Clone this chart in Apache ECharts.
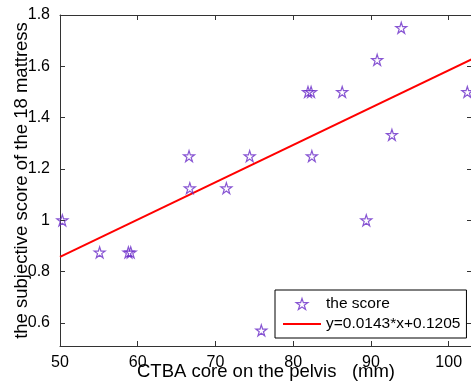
<!DOCTYPE html>
<html>
<head>
<meta charset="utf-8">
<script src="https://cdn.jsdelivr.net/npm/echarts@6/dist/echarts.min.js"></script>
<style>
  html, body { margin: 0; padding: 0; background: #fff; }
  #chart { width: 471px; height: 388px; }
</style>
</head>
<body>
<div id="chart"></div>
<script>
// measured scores (x = CTBA core, y = subjective score)
const scoreX = [93.9, 90.8, 81.9, 82.3, 86.3, 102.4, 92.7, 66.6, 74.4, 82.4, 66.7, 71.4, 50.3, 55.1, 58.8, 59.1, 75.9, 89.4];
const scoreY = [1.75, 1.625, 1.5, 1.5, 1.5, 1.5, 1.333, 1.25, 1.25, 1.25, 1.125, 1.125, 1.0, 0.875, 0.875, 0.875, 0.571, 1.0];

// fitted line, read at both ends of the plot
const fitX = [50, 103];
const fitY = [0.857, 1.628];

const xTicks = [50, 60, 70, 80, 90, 100];
const yTicks = [0.6, 0.8, 1, 1.2, 1.4, 1.6, 1.8];

const STAR = "path://M50,2 L61.2,36.2 L97.6,36.2 L68.2,57.4 L79.4,91.6 L50,70.4 L20.6,91.6 L31.8,57.4 L2.4,36.2 L38.8,36.2 Z";
const LINE_ICON = "path://M0,0 L38,0 L38,2 L0,2 Z";
const FONT = "Liberation Sans";
const AXIS_COLOR = "#333";
const STAR_COLOR = "#6a2cc8";
const LINE_COLOR = "#ff0000";

const chart = echarts.init(document.getElementById("chart"));

const tickStyle = {
  show: true,
  inside: true,
  length: 5,
  lineStyle: { color: AXIS_COLOR, width: 1 },
};

const starStyle = { color: "rgba(0,0,0,0)", borderColor: STAR_COLOR, borderWidth: 1.2 };

const option = {
  animation: false,
  grid: { left: 60, right: -1, top: 15, bottom: 42, containLabel: false, outerBoundsMode: "none" },
  legend: {
    orient: "vertical",
    left: 275,
    top: 290,
    padding: [6, 6, 6, 8],
    itemGap: 4,
    itemWidth: 38,
    itemHeight: 11,
    borderColor: "#000",
    borderWidth: 1,
    backgroundColor: "#fff",
    textStyle: { fontFamily: FONT, fontSize: 15.5, color: "#000", lineHeight: 15 },
    data: [
      { name: "the score", icon: STAR, itemStyle: starStyle },
      { name: "y=0.0143*x+0.1205", icon: LINE_ICON, itemStyle: { color: LINE_COLOR, borderWidth: 0 } },
    ],
  },
  xAxis: [
    {
      type: "value",
      min: 50,
      max: 103,
      name: "CTBA core on the pelvis   (mm)",
      nameLocation: "middle",
      nameGap: 16,
      nameMoveOverlap: false,
      nameTextStyle: { fontFamily: FONT, fontSize: 18.5, color: "#000" },
      axisLine: { show: true, lineStyle: { color: AXIS_COLOR, width: 1 } },
      axisTick: { ...tickStyle, customValues: xTicks },
      axisLabel: { fontFamily: FONT, fontSize: 16, color: "#000", margin: 9, customValues: xTicks },
      splitLine: { show: false },
    },
    {
      type: "value",
      position: "top",
      min: 50,
      max: 103,
      axisLine: { show: true, lineStyle: { color: AXIS_COLOR, width: 1 } },
      axisTick: { ...tickStyle, customValues: xTicks },
      axisLabel: { show: false },
      splitLine: { show: false },
    },
  ],
  yAxis: [
    {
      type: "value",
      min: 0.51,
      max: 1.8,
      name: "the subjective score of the 18 mattress",
      nameLocation: "middle",
      nameGap: 29,
      nameMoveOverlap: false,
      nameTextStyle: { fontFamily: FONT, fontSize: 18.5, color: "#000" },
      axisLine: { show: true, lineStyle: { color: AXIS_COLOR, width: 1 } },
      axisTick: { ...tickStyle, customValues: yTicks },
      axisLabel: { fontFamily: FONT, fontSize: 16, color: "#000", margin: 10, customValues: yTicks },
      splitLine: { show: false },
    },
    {
      type: "value",
      position: "right",
      min: 0.51,
      max: 1.8,
      axisLine: { show: true, lineStyle: { color: AXIS_COLOR, width: 1 } },
      axisTick: { ...tickStyle, customValues: yTicks },
      axisLabel: { show: false },
      splitLine: { show: false },
    },
  ],
  series: [
    {
      name: "the score",
      type: "scatter",
      symbol: STAR,
      symbolSize: 11,
      itemStyle: starStyle,
      data: scoreX.map((x, i) => [x, scoreY[i]]),
      z: 3,
    },
    {
      name: "y=0.0143*x+0.1205",
      type: "line",
      symbol: "none",
      lineStyle: { color: LINE_COLOR, width: 2 },
      itemStyle: { color: LINE_COLOR },
      data: fitX.map((x, i) => [x, fitY[i]]),
      z: 2,
    },
  ],
};

chart.setOption(option);
</script>
</body>
</html>
